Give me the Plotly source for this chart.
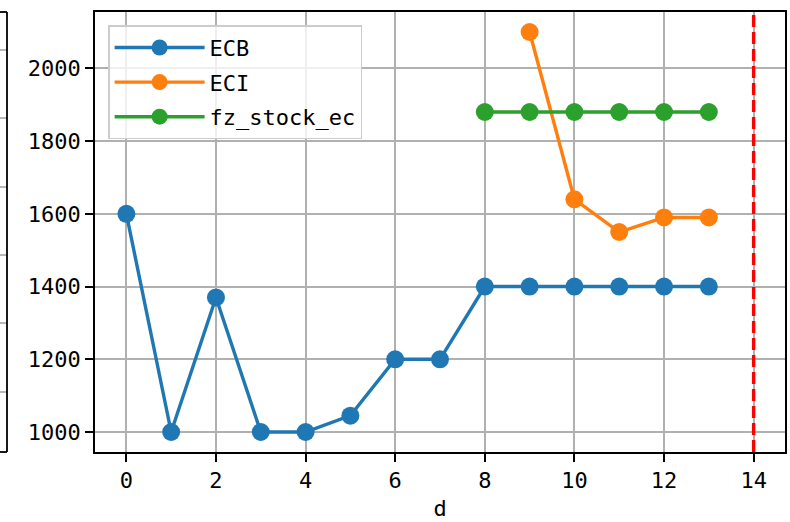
import plotly.graph_objects as go

# ---- data ----
d_ecb = [0, 1, 2, 3, 4, 5, 6, 7, 8, 9, 10, 11, 12, 13]
ecb = [1600, 1000, 1370, 1000, 1000, 1045, 1200, 1200, 1400, 1400, 1400, 1400, 1400, 1400]
d_eci = [9, 10, 11, 12, 13]
eci = [2100, 1640, 1550, 1590, 1590]
d_fz = [8, 9, 10, 11, 12, 13]
fz_stock_ec = [1880, 1880, 1880, 1880, 1880, 1880]
vline_x = [14]

FONT = "DejaVu Sans Mono, monospace"
colors = ["#1f77b4", "#ff7f0e", "#2ca02c"]

fig = go.Figure()
for name, xs, ys, c in [("ECB", d_ecb, ecb, colors[0]),
                        ("ECI", d_eci, eci, colors[1]),
                        ("fz_stock_ec", d_fz, fz_stock_ec, colors[2])]:
    fig.add_trace(go.Scatter(x=xs, y=ys, mode="lines+markers", name=name,
                             legendgroup=name,
                             line=dict(color=c, width=3.4),
                             marker=dict(color=c, size=18)))

for xv in vline_x:
    fig.add_shape(type="line", xref="x", yref="paper", x0=xv, x1=xv, y0=0, y1=1,
                  line=dict(color="red", width=3.4, dash="12px,5px"))

# partial frame of neighbouring panel at the left edge (cropped)
W_PLOT = 690.0
H_PLOT = 440.0
def px_x(p):
    return (p - 95) / W_PLOT
def px_y(p):
    return (452 - p) / H_PLOT
xr = px_x(7)
xl = px_x(-20)
for gy in [50, 118, 187, 255, 323, 392]:
    fig.add_shape(type="line", xref="paper", yref="paper", x0=xl, x1=xr,
                  y0=px_y(gy), y1=px_y(gy), line=dict(color="#b0b0b0", width=1.8))
fig.add_shape(type="line", xref="paper", yref="paper", x0=xr, x1=xr, y0=0, y1=1,
              line=dict(color="black", width=1.8))
for yy in [0, 1]:
    fig.add_shape(type="line", xref="paper", yref="paper", x0=xl, x1=xr, y0=yy, y1=yy,
                  line=dict(color="black", width=1.8))

axis_common = dict(showline=True, linecolor="black", linewidth=1.8, mirror=True,
                   ticks="outside", ticklen=8, tickwidth=1.8, tickcolor="black",
                   showgrid=True, gridcolor="#b0b0b0", gridwidth=1.8, zeroline=False,
                   automargin=False,
                   tickfont=dict(family=FONT, size=22, color="black"))

fig.update_layout(
    width=790, height=522, autosize=False,
    margin=dict(l=95, r=5, t=12, b=70),
    plot_bgcolor="white", paper_bgcolor="white",
    xaxis=dict(range=[-0.7, 14.7], tick0=0, dtick=2,
               title=dict(text="d", font=dict(family=FONT, size=22, color="black"), standoff=8),
               **axis_common),
    yaxis=dict(range=[945, 2155], tick0=1000, dtick=200, **axis_common),
    legend=dict(x=0.019, y=0.97, xanchor="left", yanchor="top",
                bgcolor="rgba(255,255,255,0.8)", bordercolor="#cccccc", borderwidth=1.5,
                font=dict(family=FONT, size=22, color="black"), itemwidth=90,
                tracegroupgap=3),
    showlegend=True,
)

fig.write_html("out.html", config={"displayModeBar": False},
               post_script="document.body.style.margin='0';document.body.style.padding='0';")
